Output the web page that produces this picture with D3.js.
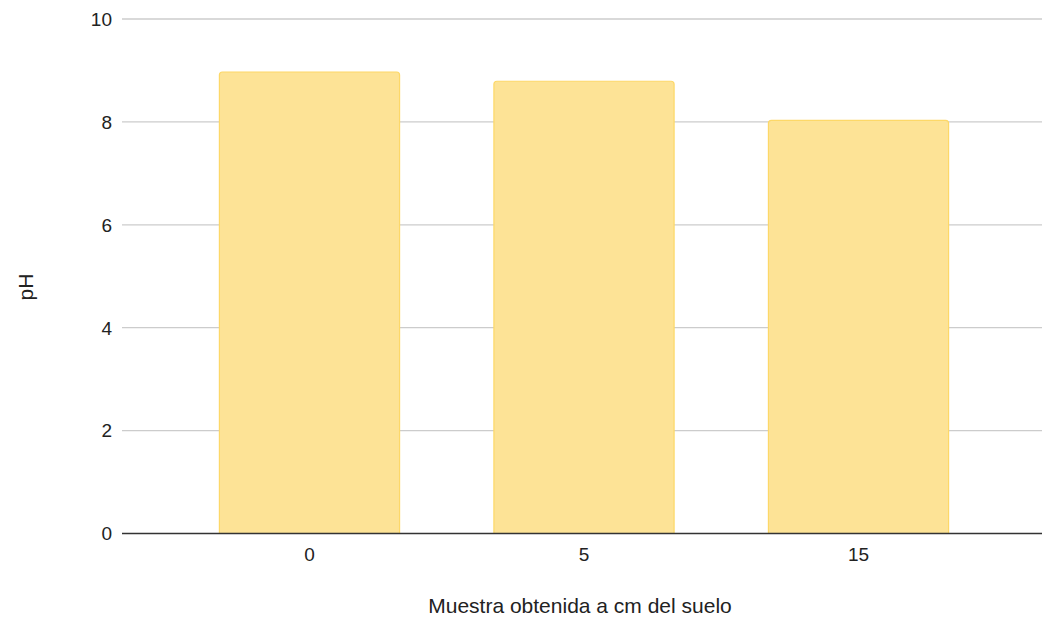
<!DOCTYPE html>
<html><head><meta charset="utf-8">
<script src="https://cdn.jsdelivr.net/npm/d3@7"></script>
<style>body{margin:0;background:#fff;} svg{display:block;} text{font-family:"Liberation Sans",Arial,sans-serif;fill:#222;}</style>
</head><body>
<svg id="c" width="1042" height="623"></svg>
<script>
const categories = ["0", "5", "15"];
const values = [8.97, 8.79, 8.03];
const yTicks = [0, 2, 4, 6, 8, 10];
const xTitle = "Muestra obtenida a cm del suelo";
const yTitle = "pH";

const svg = d3.select("#c");
const W = 1042, H = 623;
const m = {left: 122, right: 0, top: 19, bottom: 90};
const x = d3.scaleBand().domain(categories).range([m.left, 1046]).paddingInner(0.34).paddingOuter(0.353);
const y = d3.scaleLinear().domain([0, 10]).range([533.5, m.top]);

// gridlines
svg.append("g").selectAll("line").data(yTicks.filter(d => d !== 0)).join("line")
  .attr("x1", m.left).attr("x2", W).attr("y1", d => y(d)).attr("y2", d => y(d))
  .attr("stroke", "#cccccc").attr("stroke-width", 1.3);

// y tick labels
svg.append("g").selectAll("text").data(yTicks).join("text")
  .attr("x", 112).attr("y", d => y(d)).attr("dy", "0.36em")
  .attr("text-anchor", "end").attr("font-size", 19).text(d => d);

// bars with rounded top corners
const r = 3;
svg.append("g").selectAll("path").data(values).join("path")
  .attr("d", (d, i) => {
    const x0 = x(categories[i]) + 0.5, x1 = x(categories[i]) + x.bandwidth() - 0.5;
    const y0 = y(d), yb = y(0);
    return `M${x0},${yb} L${x0},${y0 + r} Q${x0},${y0} ${x0 + r},${y0} L${x1 - r},${y0} Q${x1},${y0} ${x1},${y0 + r} L${x1},${yb} Z`;
  })
  .attr("fill", "#fde396").attr("stroke", "#fdd868").attr("stroke-width", 1.2);

// baseline
svg.append("line").attr("x1", m.left).attr("x2", W).attr("y1", y(0)).attr("y2", y(0))
  .attr("stroke", "#333333").attr("stroke-width", 1.5);

// x tick labels
svg.append("g").selectAll("text").data(categories).join("text")
  .attr("x", d => x(d) + x.bandwidth() / 2).attr("y", 561)
  .attr("text-anchor", "middle").attr("font-size", 19).text(d => d);

// titles
svg.append("text").attr("x", 580).attr("y", 613)
  .attr("text-anchor", "middle").attr("font-size", 21).text(xTitle);
svg.append("text").attr("transform", "translate(33,287) rotate(-90)")
  .attr("text-anchor", "middle").attr("font-size", 21).text(yTitle);
</script>
</body></html>
